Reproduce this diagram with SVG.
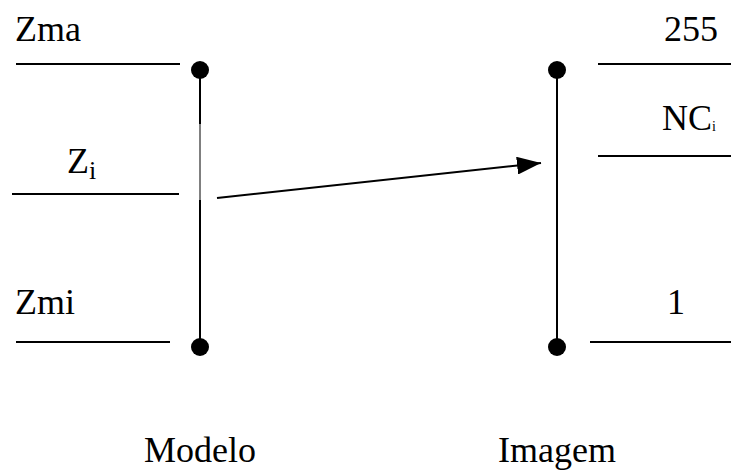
<svg xmlns="http://www.w3.org/2000/svg" width="731" height="471" viewBox="0 0 731 471">
<style>
.t{font-family:'Liberation Serif','Times New Roman',serif;font-size:36px;fill:#000}
.ln{stroke:#000;stroke-width:2;fill:none}
.dot{fill:#000}
</style>
<defs>
<marker id="ah" markerWidth="24" markerHeight="18" refX="24" refY="9" orient="auto" markerUnits="userSpaceOnUse">
<path d="M0,0 L24,9 L0,18 Z" fill="#000"/>
</marker>
</defs>
<rect width="731" height="471" fill="#fff"/>
<g id="modelo">
<line class="ln" x1="200" y1="70" x2="200" y2="124"/>
<line stroke="#000" stroke-width="1" x1="200" y1="124" x2="200" y2="200"/>
<line class="ln" x1="200" y1="200" x2="200" y2="347"/>
<circle class="dot" cx="200" cy="70" r="9"/>
<circle class="dot" cx="200" cy="347" r="9"/>
<line class="ln" x1="16" y1="64" x2="180" y2="64"/>
<line class="ln" x1="12" y1="194" x2="179" y2="194"/>
<line class="ln" x1="16" y1="342" x2="170" y2="342"/>
<text class="t" x="15" y="41">Zma</text>
<text class="t" x="67" y="173">Z<tspan font-size="26" dy="6">i</tspan></text>
<text class="t" x="15" y="314">Zmi</text>
<text class="t" x="200" y="462" text-anchor="middle">Modelo</text>
</g>
<g id="imagem">
<line class="ln" x1="557" y1="70" x2="557" y2="347"/>
<circle class="dot" cx="557" cy="70" r="9"/>
<circle class="dot" cx="557" cy="347" r="9"/>
<line class="ln" x1="598" y1="64" x2="731" y2="64"/>
<line class="ln" x1="598" y1="156" x2="731" y2="156"/>
<line class="ln" x1="590" y1="342" x2="731" y2="342"/>
<text class="t" x="718" y="41" text-anchor="end">255</text>
<text class="t" x="662" y="130">NC<tspan font-size="14" dy="1">i</tspan></text>
<text class="t" x="667" y="314">1</text>
<text class="t" x="557" y="462" text-anchor="middle">Imagem</text>
</g>
<g id="connectors">
<line class="ln" x1="217" y1="198" x2="541" y2="163" marker-end="url(#ah)"/>
</g>
</svg>
